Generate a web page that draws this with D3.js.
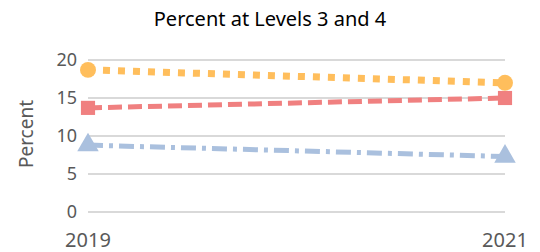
<!DOCTYPE html>
<html lang="en">
<head>
    <meta charset="UTF-8">
    <title>Percent at Levels 3 and 4</title>
    <script src="https://d3js.org/d3.v7.min.js"></script>
    <style>
        body { margin: 0; background: #fff; }
        text { font-family: "Segoe UI", "Noto Sans", sans-serif; }
    </style>
</head>
<body>
    <div id="chart"></div>
    <script>
        // data
        var years = ["2019", "2021"];
        var yTicks = [0, 5, 10, 15, 20];
        var orangeVals = [18.7, 17.0];
        var redVals = [13.7, 15.0];
        var blueVals = [8.8, 7.3];

        var width = 540, height = 252;

        var svg = d3.select("#chart")
            .append("svg")
            .attr("width", width)
            .attr("height", height);

        var x = d3.scalePoint()
            .domain(years)
            .range([88, 505]);

        var y = d3.scaleLinear()
            .domain([0, 20])
            .range([212, 60]);

        // gridlines
        svg.selectAll("line.grid")
            .data(yTicks)
            .enter()
            .append("line")
            .attr("class", "grid")
            .attr("x1", 88)
            .attr("x2", 505)
            .attr("y1", function(d) { return y(d); })
            .attr("y2", function(d) { return y(d); })
            .attr("stroke", "#d9d9d9")
            .attr("stroke-width", 2);

        // y tick labels
        svg.selectAll("text.ytick")
            .data(yTicks)
            .enter()
            .append("text")
            .attr("class", "ytick")
            .attr("x", 77)
            .attr("y", function(d) { return y(d); })
            .attr("dy", "0.35em")
            .attr("text-anchor", "end")
            .attr("font-size", "18px")
            .attr("fill", "#595959")
            .text(function(d) { return d; });

        // x labels
        svg.selectAll("text.xtick")
            .data(years)
            .enter()
            .append("text")
            .attr("class", "xtick")
            .attr("x", function(d) { return x(d); })
            .attr("y", 247)
            .attr("text-anchor", "middle")
            .attr("font-size", "20px")
            .attr("fill", "#595959")
            .text(function(d) { return d; });

        // title
        svg.append("text")
            .attr("x", 270)
            .attr("y", 26)
            .attr("text-anchor", "middle")
            .attr("font-size", "20px")
            .attr("fill", "#000")
            .text("Percent at Levels 3 and 4");

        // axis title
        svg.append("text")
            .attr("transform", "translate(33,134) rotate(-90)")
            .attr("text-anchor", "middle")
            .attr("font-size", "19px")
            .attr("fill", "#595959")
            .text("Percent");

        var series = [
            { vals: blueVals, color: "#aac0de", dash: "15 6 4 6", width: 5, shape: d3.symbolTriangle },
            { vals: redVals, color: "#f08080", dash: "14 6", width: 5, shape: d3.symbolSquare },
            { vals: orangeVals, color: "#ffbe5c", dash: "7 8", width: 7, shape: d3.symbolCircle }
        ];

        var line = d3.line()
            .x(function(d, i) { return x(years[i]); })
            .y(function(d) { return y(d); });

        series.forEach(function(s) {
            svg.append("path")
                .datum(s.vals)
                .attr("d", line)
                .attr("fill", "none")
                .attr("stroke", s.color)
                .attr("stroke-width", s.width)
                .attr("stroke-dasharray", s.dash);

            svg.selectAll(null)
                .data(s.vals)
                .enter()
                .append("path")
                .attr("d", d3.symbol().type(s.shape).size(200))
                .attr("transform", function(d, i) { return "translate(" + x(years[i]) + "," + y(d) + ")"; })
                .attr("fill", s.color);
        });
    </script>
</body>
</html>
